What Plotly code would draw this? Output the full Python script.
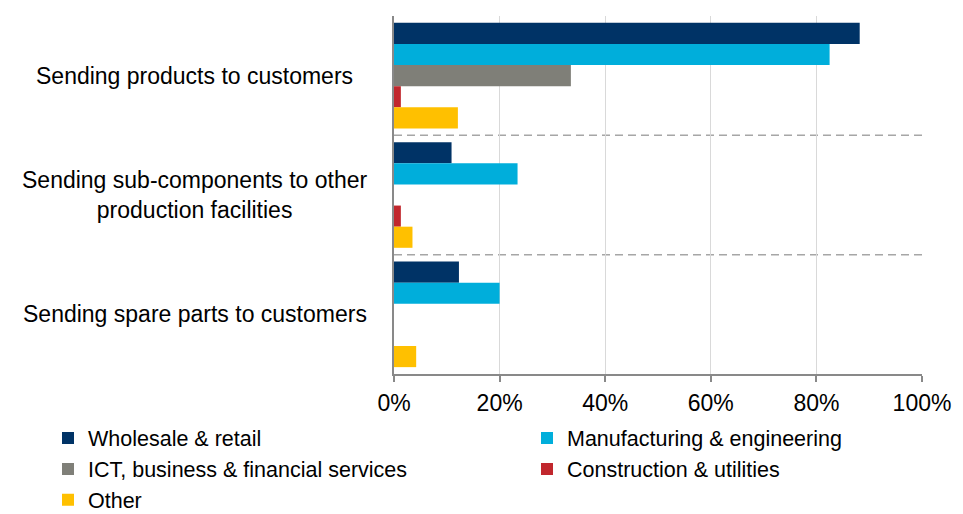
import plotly.graph_objects as go

# Uses of delivery by sector (share of firms)
categories = [
    "Sending products to customers",
    "Sending sub-components to other<br>production facilities",
    "Sending spare parts to customers",
]
series_names = [
    "Wholesale & retail",
    "Manufacturing & engineering",
    "ICT, business & financial services",
    "Construction & utilities",
    "Other",
]
wholesale = [0.882, 0.109, 0.123]
manufacturing = [0.825, 0.234, 0.200]
ict = [0.335, 0.0, 0.0]
construction = [0.013, 0.013, 0.0]
other = [0.121, 0.035, 0.042]
x_ticks = [0, 0.2, 0.4, 0.6, 0.8, 1.0]
x_tick_labels = ["0%", "20%", "40%", "60%", "80%", "100%"]

series_values = [wholesale, manufacturing, ict, construction, other]
colors = ["#003366", "#00AEDB", "#7F7F78", "#C1272D", "#FFC000"]
# two-column legend: left column / right column
legend_ids = ["legend", "legend2", "legend", "legend2", "legend"]

FONT = "Arial, Liberation Sans, sans-serif"
FS = 23
LEGEND_FS = 21.5

fig = go.Figure()
for name, vals, col, lg in zip(series_names, series_values, colors, legend_ids):
    fig.add_trace(go.Bar(
        y=categories, x=vals, name=name, orientation="h",
        marker=dict(color=col, line=dict(width=0)), legend=lg,
    ))

# dashed separators between category bands
shapes = []
for i in range(len(categories) - 1):
    shapes.append(dict(
        type="line", xref="paper", x0=0, x1=1, yref="y", y0=i + 0.5, y1=i + 0.5,
        line=dict(color="#A6A6A6", width=1.5, dash="8px,5px"), layer="below",
    ))

# category labels, centred per line
annotations = []
for c in categories:
    annotations.append(dict(
        text=c, xref="paper", x=-0.377, xanchor="center", yref="y", y=c,
        yanchor="middle", showarrow=False, align="center",
        font=dict(family=FONT, size=FS, color="#000000"),
    ))

legend_common = dict(
    orientation="v", yanchor="top", xanchor="left",
    font=dict(family=FONT, size=LEGEND_FS, color="#000000"),
    traceorder="normal", bgcolor="rgba(0,0,0,0)", borderwidth=0,
    tracegroupgap=0,
)

fig.update_layout(
    width=963, height=514,
    margin=dict(l=394, r=41, t=16, b=140, autoexpand=False),
    paper_bgcolor="white", plot_bgcolor="white",
    barmode="group", bargap=0.115, bargroupgap=0,
    font=dict(family=FONT, size=FS, color="#000000"),
    shapes=shapes, annotations=annotations,
    showlegend=True,
    legend=dict(x=-0.6553, y=-0.1215, **legend_common),
    legend2=dict(x=0.2519, y=-0.1215, **legend_common),
)
fig.update_xaxes(
    range=[0, 1.0], tickvals=x_ticks, ticktext=x_tick_labels,
    showgrid=True, gridcolor="#D9D9D9", gridwidth=1,
    showline=True, linecolor="#898989", linewidth=1.5,
    ticks="outside", ticklen=6, tickcolor="#898989", tickwidth=1.5,
    ticklabelstandoff=2, zeroline=False,
    tickfont=dict(family=FONT, size=FS, color="#000000"),
)
fig.update_yaxes(
    type="category", categoryorder="array", categoryarray=categories,
    range=[2.5, -0.5], showticklabels=False,
    showline=True, linecolor="#898989", linewidth=1.5, showgrid=False,
)

fig.write_html("out.html")
